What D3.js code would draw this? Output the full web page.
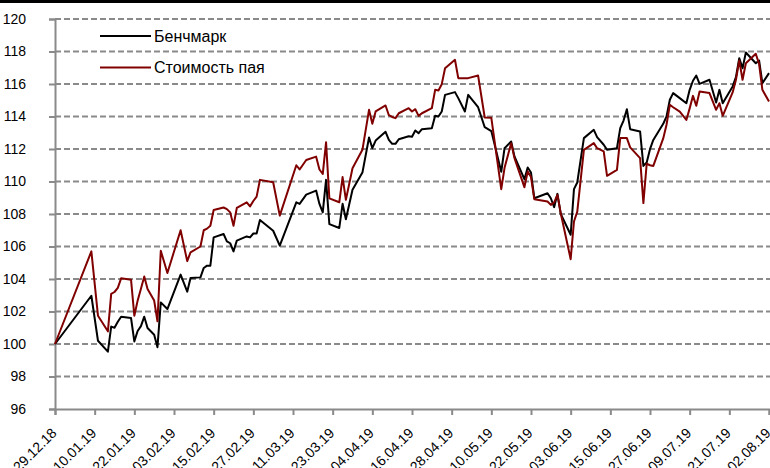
<!DOCTYPE html>
<html>
<head>
<meta charset="utf-8">
<script src="https://cdn.jsdelivr.net/npm/d3@7"></script>
<style>
  body { margin: 0; background: #fff; }
  svg { display: block; font-family: "Liberation Sans", Arial, sans-serif; }
</style>
</head>
<body>
<div id="chart"></div>
<script>
const dates = [
  "29.12.18","09.01.19","11.01.19","14.01.19","15.01.19","16.01.19","17.01.19","18.01.19","21.01.19","22.01.19",
  "23.01.19","24.01.19","25.01.19","26.01.19","28.01.19","29.01.19","30.01.19","01.02.19","05.02.19","07.02.19",
  "08.02.19","11.02.19","12.02.19","13.02.19","14.02.19","15.02.19","18.02.19","19.02.19","20.02.19","21.02.19",
  "22.02.19","25.02.19","26.02.19","27.02.19","28.02.19","01.03.19","05.03.19","07.03.19","12.03.19","13.03.19",
  "15.03.19","18.03.19","19.03.19","20.03.19","21.03.19","22.03.19","25.03.19","26.03.19","27.03.19","29.03.19",
  "01.04.19","03.04.19","04.04.19","05.04.19","08.04.19","09.04.19","10.04.19","11.04.19","12.04.19","15.04.19",
  "16.04.19","17.04.19","18.04.19","19.04.19","22.04.19","23.04.19","24.04.19","25.04.19","26.04.19","29.04.19",
  "30.04.19","02.05.19","03.05.19","06.05.19","08.05.19","10.05.19","13.05.19","14.05.19","16.05.19","17.05.19",
  "20.05.19","21.05.19","22.05.19","23.05.19","27.05.19","28.05.19","29.05.19","30.05.19","31.05.19","03.06.19",
  "04.06.19","05.06.19","07.06.19","10.06.19","11.06.19","13.06.19","14.06.19","17.06.19","18.06.19","19.06.19",
  "20.06.19","21.06.19","24.06.19","25.06.19","26.06.19","27.06.19","28.06.19","01.07.19","02.07.19","03.07.19",
  "04.07.19","06.07.19","08.07.19","09.07.19","10.07.19","11.07.19","12.07.19","15.07.19","17.07.19","18.07.19",
  "19.07.19","22.07.19","23.07.19","24.07.19","25.07.19","26.07.19","29.07.19","30.07.19","31.07.19","02.08.19"
];

// Бенчмарк
const benchmark = [
  100.00,102.97,100.20,99.53,101.07,101.00,101.37,101.68,101.60,100.16,
  100.80,101.10,101.68,100.98,100.57,99.80,102.56,102.15,104.27,103.22,
  104.06,104.10,104.68,104.82,104.82,106.56,106.77,106.32,106.20,105.70,
  106.36,106.62,106.56,106.80,106.80,107.63,106.97,106.05,108.72,108.62,
  109.19,109.44,108.62,108.10,110.10,107.38,107.14,108.63,107.68,109.49,
  110.55,112.71,112.05,112.52,113.06,112.56,112.32,112.32,112.60,112.78,
  112.75,113.14,112.97,113.22,113.28,114.04,114.00,114.31,115.33,115.50,
  115.13,114.31,115.33,114.57,113.34,113.10,110.60,112.05,112.46,111.54,
  110.14,110.86,110.55,108.97,109.28,108.97,108.42,109.24,108.01,106.72,
  109.53,109.94,112.67,113.18,112.73,112.26,111.95,112.05,113.28,113.75,
  114.45,113.22,113.08,110.96,111.17,111.99,112.56,113.55,114.00,115.03,
  115.44,115.13,114.82,115.64,116.20,116.52,116.01,116.26,114.86,115.64,
  114.82,115.85,116.42,117.59,116.97,117.94,117.28,117.45,116.05,116.67
];

// Стоимость пая
const unitValue = [
  100.00,105.70,101.74,100.78,103.08,103.20,103.45,104.04,103.96,101.74,
  102.67,103.40,104.16,103.38,102.67,101.40,105.74,104.37,107.00,105.10,
  105.64,106.00,107.00,107.10,107.28,108.25,108.40,108.30,108.10,107.28,
  108.37,108.72,108.47,108.80,109.07,110.10,109.95,107.90,111.00,110.74,
  111.32,111.53,110.74,110.46,112.41,108.96,108.72,110.27,108.87,110.82,
  111.95,114.41,113.55,114.31,114.68,114.08,113.97,113.90,114.20,114.51,
  114.31,114.45,114.04,114.20,114.51,115.64,115.60,115.99,116.97,117.49,
  116.36,116.36,116.36,116.52,113.94,113.92,109.53,110.84,112.36,111.44,
  109.65,110.62,110.27,108.91,108.77,108.56,108.71,109.18,108.05,105.22,
  107.54,108.15,111.95,112.36,112.05,111.85,110.35,110.72,112.67,112.67,
  112.67,112.10,111.44,108.67,111.09,111.00,110.96,112.65,113.49,114.72,
  114.57,114.30,113.79,114.50,115.27,114.66,115.54,115.44,114.41,114.82,
  114.04,115.48,116.26,117.45,116.26,117.28,117.86,117.24,115.64,114.92
];

const xTickLabels = ["29.12.18","10.01.19","22.01.19","03.02.19","15.02.19","27.02.19","11.03.19",
  "23.03.19","04.04.19","16.04.19","28.04.19","10.05.19","22.05.19","03.06.19","15.06.19",
  "27.06.19","09.07.19","21.07.19","02.08.19"];
const yTicks = [96, 98, 100, 102, 104, 106, 108, 110, 112, 114, 116, 118, 120];

const seriesNames = ["Бенчмарк", "Стоимость пая"];
const seriesColors = ["#000000", "#800000"];

const W = 770, H = 468;
const parse = d3.timeParse("%d.%m.%y");
const plot = {left: 55, right: 769, top: 19, bottom: 409};

const svg = d3.select("#chart").append("svg")
  .attr("width", W)
  .attr("height", H);

svg.append("rect").attr("x", 0).attr("y", 0).attr("width", W).attr("height", 3).attr("fill", "#000");

const x = d3.scaleTime()
  .domain([parse(xTickLabels[0]), parse(xTickLabels[xTickLabels.length - 1])])
  .range([plot.left, plot.right]);

const y = d3.scaleLinear()
  .domain([96, 120])
  .range([plot.bottom, plot.top]);

const gridColor = "#8a8a8a";

// gridlines
svg.append("g")
  .selectAll("line")
  .data(yTicks.filter(d => d !== 96))
  .enter().append("line")
  .attr("x1", plot.left).attr("x2", W)
  .attr("y1", d => y(d)).attr("y2", d => y(d))
  .attr("stroke", gridColor)
  .attr("stroke-width", 2)
  .attr("stroke-dasharray", "6,3");

// y axis
const yAxis = svg.append("g")
  .attr("transform", `translate(${plot.left},0)`)
  .call(d3.axisLeft(y).tickValues(yTicks).tickSize(6).tickPadding(23).tickFormat(d3.format("d")));
yAxis.select(".domain").attr("stroke", gridColor).attr("stroke-width", 2);
yAxis.selectAll(".tick line").attr("stroke", gridColor).attr("stroke-width", 2);
yAxis.selectAll("text").attr("font-size", 14).attr("fill", "#000")
  .attr("font-family", "Liberation Sans, Arial, sans-serif");

// x axis
const xAxis = svg.append("g")
  .attr("transform", `translate(0,${plot.bottom})`)
  .call(d3.axisBottom(x)
    .tickValues(xTickLabels.map(parse))
    .tickSize(6)
    .tickFormat(d3.timeFormat("%d.%m.%y")));
xAxis.select(".domain").attr("stroke", gridColor).attr("stroke-width", 2);
xAxis.selectAll(".tick line").attr("stroke", gridColor).attr("stroke-width", 2);
xAxis.selectAll("text")
  .attr("font-size", 14)
  .attr("fill", "#000")
  .attr("font-family", "Liberation Sans, Arial, sans-serif")
  .attr("text-anchor", "end")
  .attr("dy", null)
  .attr("y", 0)
  .attr("transform", "translate(2,25) rotate(-45)");

// lines
const series = [benchmark, unitValue];
const line = d3.line()
  .x((d, i) => x(parse(dates[i])))
  .y(d => y(d));

series.forEach((s, k) => {
  svg.append("path")
    .datum(s)
    .attr("fill", "none")
    .attr("stroke", seriesColors[k])
    .attr("stroke-width", 2)
    .attr("stroke-linejoin", "round")
    .attr("d", line);
});

// legend
const legend = svg.append("g");
seriesNames.forEach((name, k) => {
  const ly = 36 + k * 31.5;
  legend.append("line")
    .attr("x1", 100).attr("x2", 151)
    .attr("y1", ly).attr("y2", ly)
    .attr("stroke", seriesColors[k])
    .attr("stroke-width", 2);
  legend.append("text")
    .attr("x", 154).attr("y", ly)
    .attr("dy", "0.36em")
    .attr("font-size", 16)
    .attr("fill", "#000")
    .text(name);
});
</script>
</body>
</html>
